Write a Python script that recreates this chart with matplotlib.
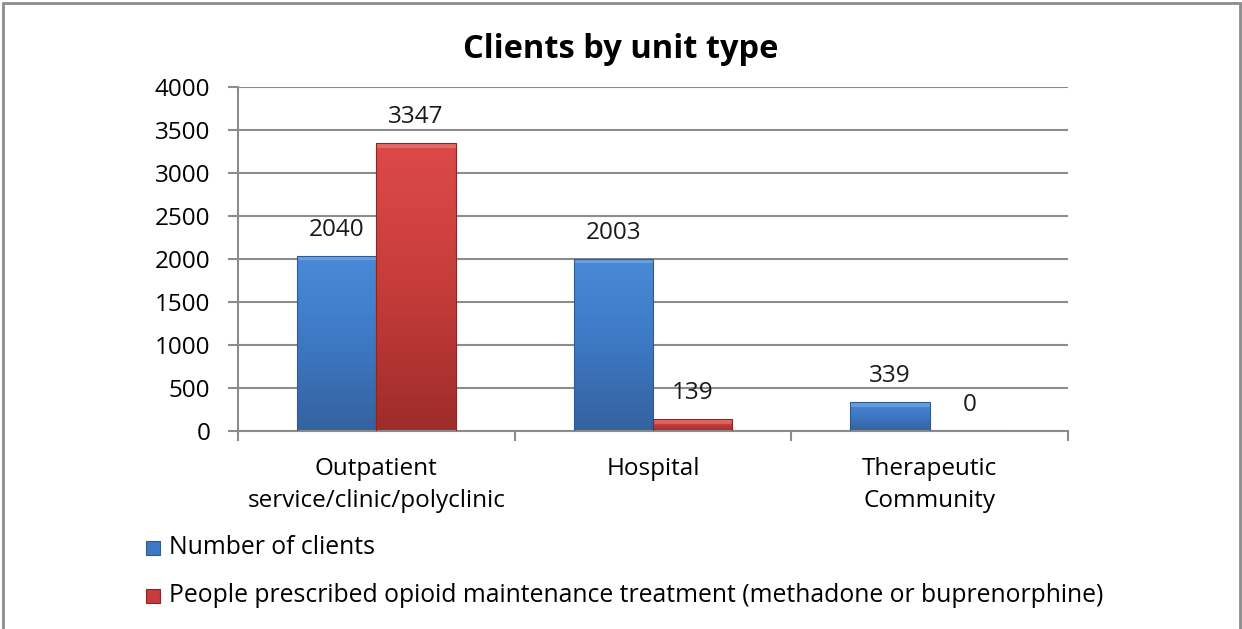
import numpy as np
import matplotlib.pyplot as plt
from matplotlib.patches import Rectangle
from matplotlib.colors import LinearSegmentedColormap

plt.rcParams['font.family'] = ['Open Sans', 'DejaVu Sans']

categories = ["Outpatient\nservice/clinic/polyclinic", "Hospital", "Therapeutic\nCommunity"]
clients = [2040, 2003, 339]
opioid = [3347, 139, 0]
series_names = ["Number of clients",
                "People prescribed opioid maintenance treatment (methadone or buprenorphine)"]

W, H = 1242, 629
fig = plt.figure(figsize=(W / 100, H / 100), dpi=100)

# outer frame of the chart area
fig.patches.append(Rectangle((3 / W, -0.01), 1237 / W, 1 - 3 / H + 0.01, transform=fig.transFigure,
                             fill=False, edgecolor='#8c8c8c', linewidth=2))

ax = fig.add_axes([238 / W, 1 - 431 / H, 830 / W, 344 / H])

x = np.arange(len(categories))
bw = 0.287
FS = 17.5

blue_cmap = LinearSegmentedColormap.from_list('b', ['#4a8ad8', '#3d78c4', '#34629f'])
red_cmap = LinearSegmentedColormap.from_list('r', ['#dc4a48', '#c63c3a', '#9e2c2b'])


def shaded_bars(xs, vals, cmap, edge):
    bars = ax.bar(xs, vals, bw, color='none', edgecolor=edge, linewidth=0.8, zorder=3)
    grad = np.linspace(0, 1, 64).reshape(-1, 1)
    for b in bars:
        if b.get_height() <= 0:
            continue
        x0, w, h = b.get_x(), b.get_width(), b.get_height()
        im = ax.imshow(grad, cmap=cmap, aspect='auto', extent=(x0, x0 + w, 0, h),
                       origin='upper', zorder=2)
        im.set_clip_path(b)
        # lighter bevel along the top edge
        ax.add_patch(Rectangle((x0, h - 55), w, 55, facecolor='white', alpha=0.18,
                               edgecolor='none', zorder=2.5))
    return bars


shaded_bars(x - bw / 2, clients, blue_cmap, '#2f5a92')
shaded_bars(x + bw / 2, opioid, red_cmap, '#8a2624')

for xi, v in zip(x - bw / 2, clients):
    ax.text(xi, v + 300, str(v), ha='center', va='center', fontsize=FS, color='#1a1a1a')
for xi, v in zip(x + bw / 2, opioid):
    ax.text(xi, v + 300, str(v), ha='center', va='center', fontsize=FS, color='#1a1a1a')

ax.set_xlim(-0.5, len(categories) - 0.5)
ax.set_ylim(0, 4000)
ax.set_yticks(range(0, 4001, 500))
ax.set_xticks(x)
ax.set_xticklabels(categories, fontsize=FS, linespacing=1.4)
ax.set_xticks(np.arange(-0.5, len(categories), 1), minor=True)
ax.tick_params(axis='x', which='major', length=0, pad=19)
ax.tick_params(axis='x', which='minor', length=7, width=1.5, color='#8c8c8c', direction='out')
ax.tick_params(axis='y', labelsize=FS, length=7, width=1.5, color='#8c8c8c', pad=13)

ax.grid(axis='y', color='#8c8c8c', linewidth=1.5, zorder=0)
ax.set_axisbelow(True)
for s in ['top', 'right']:
    ax.spines[s].set_visible(False)
for s in ['left', 'bottom']:
    ax.spines[s].set_color('#8c8c8c')
    ax.spines[s].set_linewidth(1.5)

fig.text(621 / W, 1 - 49 / H, "Clients by unit type", ha='center', va='center',
         fontsize=23.5, fontweight='bold')

# legend entries
for y_px, col, edge, name in [(548, '#3d78c4', '#2f5a92', series_names[0]),
                              (596, '#c63c3a', '#8a2624', series_names[1])]:
    s = 14
    fig.patches.append(Rectangle((146 / W, 1 - (y_px + s / 2) / H), s / W, s / H,
                                 transform=fig.transFigure, facecolor=col, edgecolor=edge,
                                 linewidth=0.8))
    fig.text(169 / W, 1 - y_px / H, name, ha='left', va='center', fontsize=17.8)

fig.savefig('out.png', dpi=100)
